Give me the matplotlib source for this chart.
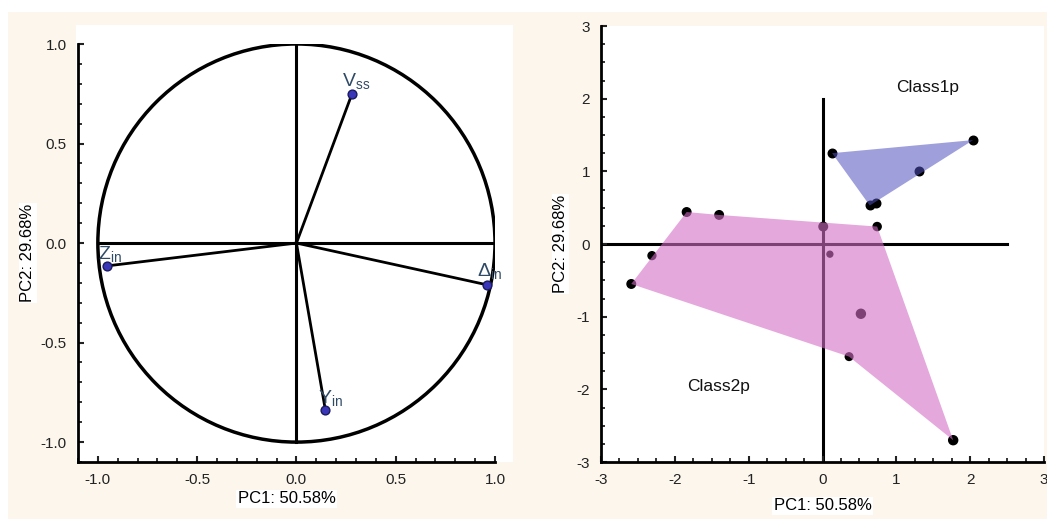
import numpy as np
import matplotlib
matplotlib.use('Agg')
import matplotlib.pyplot as plt
from matplotlib.patches import Circle, Polygon, Rectangle
from matplotlib.ticker import MultipleLocator, FormatStrFormatter

plt.rcParams['font.family'] = ['Liberation Sans', 'DejaVu Sans']
plt.rcParams['axes.unicode_minus'] = False
plt.rcParams['mathtext.fontset'] = 'custom'
plt.rcParams['mathtext.rm'] = 'Liberation Sans'

# loadings (left panel)
load_names = [r'$\mathrm{V_{ss}}$', r'$\mathrm{Z_{in}}$', r'$\mathrm{\Delta_{in}}$', r'$\mathrm{Y_{in}}$']
load_x = [0.28, -0.955, 0.96, 0.146]
load_y = [0.75, -0.115, -0.21, -0.84]
label_x = [0.23, -1.0, 0.91, 0.11]
label_y = [0.79, -0.08, -0.165, -0.805]

# scores (right panel)
class1_x = [0.13, 2.04, 1.31, 0.64, 0.72]
class1_y = [1.25, 1.43, 1.01, 0.53, 0.57]
class1_hull = [0, 1, 3]
class2_x = [-1.84, -1.40, -2.31, -2.59, 0.74, 0.36, 1.77, 0.01, 0.10, 0.52]
class2_y = [0.44, 0.40, -0.16, -0.55, 0.24, -1.55, -2.70, 0.24, -0.14, -0.96]
class2_size = [38, 38, 32, 38, 34, 30, 42, 38, 18, 42]
class2_hull = [3, 0, 1, 4, 6, 5]

fig = plt.figure(figsize=(10.47, 5.19), dpi=100, facecolor='white')
W, H = 1047, 519
fig.add_artist(Rectangle((8 / W, 0), 1, 1 - 12 / H, transform=fig.transFigure,
                         facecolor='#fcf6ec', edgecolor='none', zorder=-10))
fig.add_artist(Rectangle((76 / W, (H - 462) / H), (513 - 76) / W, (462 - 25) / H,
                         transform=fig.transFigure, facecolor='white', edgecolor='none', zorder=-9))

ax1 = fig.add_axes([78 / W, (H - 462) / H, (495 - 78) / W, (462 - 44) / H])
ax2 = fig.add_axes([601 / W, (H - 462) / H, (1044 - 601) / W, (462 - 26) / H])

for ax in (ax1, ax2):
    ax.spines['top'].set_visible(False)
    ax.spines['right'].set_visible(False)
    ax.spines['left'].set_linewidth(2)
    ax.spines['bottom'].set_linewidth(2)
    ax.tick_params(which='both', direction='in', labelsize=11, colors='#222222', pad=8)
    ax.tick_params(which='major', length=4, width=1.5)
    ax.tick_params(which='minor', length=3, width=1.3)

# left: correlation circle
ax1.set_xlim(-1.1, 1.0)
ax1.set_ylim(-1.1, 1.0)
ax1.add_patch(Circle((0, 0), 1.0, fill=False, edgecolor='black', linewidth=2.5))
ax1.plot([-1, 1], [0, 0], color='black', linewidth=2.2)
ax1.plot([0, 0], [-1, 1], color='black', linewidth=2.2)
for i in range(len(load_x)):
    ax1.plot([0, load_x[i]], [0, load_y[i]], color='black', linewidth=2)
    ax1.text(label_x[i], label_y[i], load_names[i], fontsize=14, color='#2f4a66',
             ha='left', va='baseline')
ax1.scatter(load_x, load_y, s=40, color='#3a36b8', edgecolor='#1a1a60', zorder=5)
ax1.xaxis.set_major_locator(MultipleLocator(0.5))
ax1.yaxis.set_major_locator(MultipleLocator(0.5))
ax1.xaxis.set_minor_locator(MultipleLocator(0.1))
ax1.yaxis.set_minor_locator(MultipleLocator(0.1))
ax1.xaxis.set_major_formatter(FormatStrFormatter('%.1f'))
ax1.yaxis.set_major_formatter(FormatStrFormatter('%.1f'))
ax1.set_xlabel('PC1: 50.58%', fontsize=12, labelpad=3,
               bbox=dict(facecolor='white', edgecolor='none', pad=1))
ax1.set_ylabel('PC2: 29.68%', fontsize=12, labelpad=4,
               bbox=dict(facecolor='white', edgecolor='none', pad=1))

# right: score plot
ax2.set_xlim(-3, 3)
ax2.set_ylim(-3, 3)
ax2.plot([-3, 2.5], [0, 0], color='black', linewidth=2.2, zorder=1)
ax2.plot([0, 0], [-3, 2], color='black', linewidth=2.2, zorder=1)
ax2.scatter(class1_x, class1_y, s=38, color='black', zorder=2)
ax2.scatter(class2_x, class2_y, s=class2_size, color='black', zorder=2)
ax2.add_patch(Polygon([(class1_x[i], class1_y[i]) for i in class1_hull], closed=True,
                      facecolor='#5050be', alpha=0.55, edgecolor='none', zorder=3))
ax2.add_patch(Polygon([(class2_x[i], class2_y[i]) for i in class2_hull], closed=True,
                      facecolor='#d46ec6', alpha=0.6, edgecolor='none', zorder=3))
ax2.text(1.43, 2.16, 'Class1p', fontsize=12.5, ha='center', va='center', color='#111111')
ax2.text(-1.41, -1.96, 'Class2p', fontsize=12.5, ha='center', va='center', color='#111111')
ax2.xaxis.set_major_locator(MultipleLocator(1))
ax2.yaxis.set_major_locator(MultipleLocator(1))
ax2.xaxis.set_minor_locator(MultipleLocator(0.25))
ax2.yaxis.set_minor_locator(MultipleLocator(0.25))
ax2.set_xlabel('PC1: 50.58%', fontsize=12, labelpad=8,
               bbox=dict(facecolor='white', edgecolor='none', pad=1))
ax2.set_ylabel('PC2: 29.68%', fontsize=12, labelpad=6,
               bbox=dict(facecolor='white', edgecolor='none', pad=1))

fig.savefig('out.png', dpi=100, facecolor=fig.get_facecolor())
